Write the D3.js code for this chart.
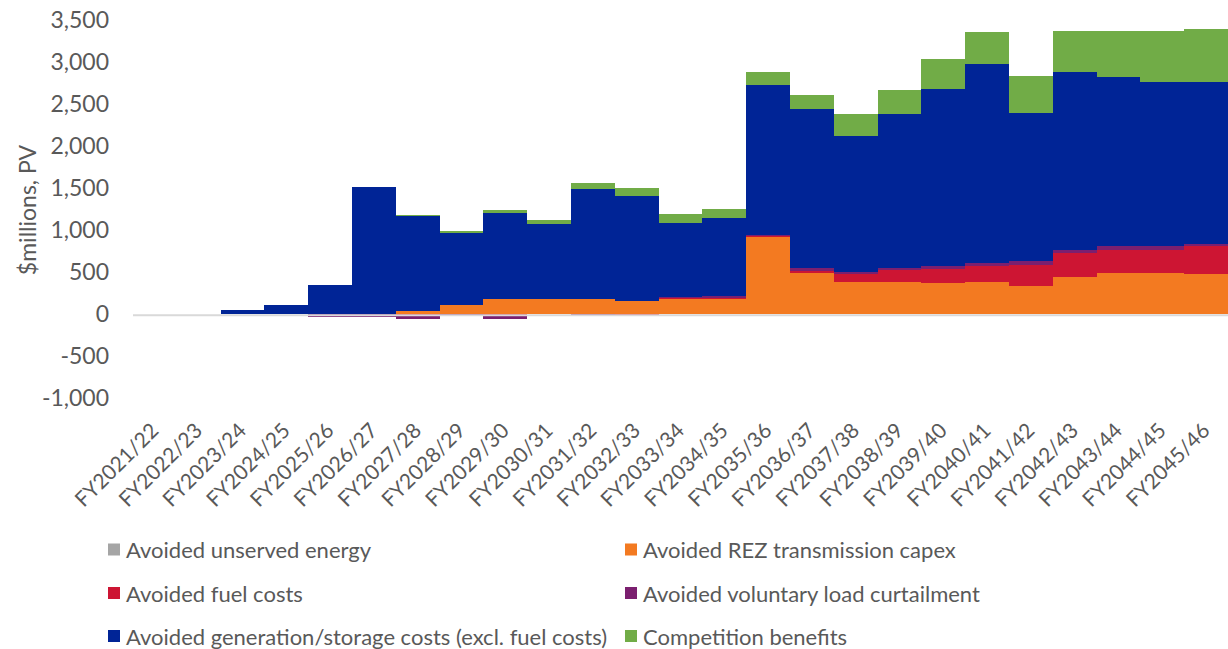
<!DOCTYPE html>
<html>
<head>
<meta charset="utf-8">
<script src="https://cdn.jsdelivr.net/npm/d3@7"></script>
<style>
  body { margin: 0; background: #fff; }
  text { font-family: Lato, 'Liberation Sans', sans-serif; fill: #595959; }
</style>
</head>
<body>
<svg width="1228" height="649"></svg>
<script>

const years = ['FY2021/22', 'FY2022/23', 'FY2023/24', 'FY2024/25', 'FY2025/26', 'FY2026/27',
               'FY2027/28', 'FY2028/29', 'FY2029/30', 'FY2030/31', 'FY2031/32', 'FY2032/33',
               'FY2033/34', 'FY2034/35', 'FY2035/36', 'FY2036/37', 'FY2037/38', 'FY2038/39',
               'FY2039/40', 'FY2040/41', 'FY2041/42', 'FY2042/43', 'FY2043/44', 'FY2044/45',
               'FY2045/46'];

// $millions, PV
const unservedEnergy = [0, 0, 0, 0, 0, 0, 0, 0, 0, 0, 0, 0, 0, 0, 0, 0, 0, 0, 0, 0, 0, 0, 0, 0, 0];
const rezCapex = [0, 0, 0, 0, 0, 0, 35, 115, 186, 186, 186, 160, 179, 179, 920, 496, 385, 385, 369, 385, 341, 448, 492, 492, 476];
const fuelCosts = [0, 0, 0, 0, 0, 0, -20, 0, -20, 0, 0, -25, 12, 20, 8, 20, 90, 139, 171, 186, 242, 286, 274, 280, 333];
const voluntaryCurtailment = [0, 0, 0, 0, -30, -30, -30, -25, -30, 0, -25, 0, 10, 16, 20, 40, 35, 32, 32, 44, 48, 32, 44, 37, 32];
const genStorage = [0, 0, 50, 115, 355, 1515, 1135, 853, 1024, 885, 1310, 1249, 890, 936, 1786, 1893, 1617, 1829, 2114, 2369, 1769, 2123, 2019, 1960, 1928];
const competition = [0, 0, 0, 0, 0, 0, 15, 28, 28, 48, 63, 90, 103, 103, 155, 166, 258, 290, 357, 376, 440, 487, 547, 607, 634];

const yTicks = [-1000, -500, 0, 500, 1000, 1500, 2000, 2500, 3000, 3500];

const keys = ['unserved', 'rez', 'fuel', 'voluntary', 'gen', 'competition'];
const labels = ['Avoided unserved energy', 'Avoided REZ transmission capex', 'Avoided fuel costs',
                'Avoided voluntary load curtailment', 'Avoided generation/storage costs (excl. fuel costs)',
                'Competition benefits'];
const colors = ['#a5a5a5', '#f37a21', '#cd1533', '#7b1f6f', '#002496', '#71ac47'];

let table = years.map(function(y, i) {
  return {
    year: y,
    unserved: unservedEnergy[i],
    rez: rezCapex[i],
    fuel: fuelCosts[i],
    voluntary: voluntaryCurtailment[i],
    gen: genStorage[i],
    competition: competition[i]
  };
});

let svg = d3.select('svg');

let xScale = d3.scaleBand()
               .domain(years)
               .range([133, 1228])
               .padding(0);

let yScale = d3.scaleLinear()
               .domain([-1000, 3500])
               .range([398.3, 20.5]);

let stacked = d3.stack()
                .keys(keys)
                .offset(d3.stackOffsetDiverging)(table);

stacked.forEach(function(layer, n) {
  svg.append('g')
     .attr('class', 'layer-' + keys[n])
     .selectAll('rect')
     .data(layer.filter(function(d) { return d[1] != d[0]; }))
     .enter()
     .append('rect')
     .attr('x', function(d) { return xScale(d.data.year); })
     .attr('width', xScale.bandwidth())
     .attr('y', function(d) { return yScale(Math.max(d[0], d[1])); })
     .attr('height', function(d) { return Math.abs(yScale(d[0]) - yScale(d[1])); })
     .attr('fill', colors[n])
     .attr('shape-rendering', 'crispEdges');
});

// zero line
svg.append('line')
   .attr('x1', 133)
   .attr('x2', 1228)
   .attr('y1', yScale(0) + 1)
   .attr('y2', yScale(0) + 1)
   .attr('stroke', '#d9d9d9')
   .attr('stroke-width', 2);

let yAxis = d3.axisLeft(yScale)
              .tickValues(yTicks)
              .tickSize(0)
              .tickPadding(24)
              .tickFormat(function(d) { return d3.format(',')(d).replace('\u2212', '-'); });

let yAxisG = svg.append('g')
                .attr('id', 'yAxisG')
                .attr('transform', 'translate(133,0)')
                .call(yAxis);

yAxisG.select('.domain').remove();
yAxisG.selectAll('text')
      .style('font-family', 'Lato, sans-serif')
      .style('font-size', '23px')
      .attr('fill', '#595959');

svg.append('text')
   .attr('transform', 'translate(27,210) rotate(-90)')
   .attr('text-anchor', 'middle')
   .attr('dominant-baseline', 'central')
   .style('font-size', '23px')
   .text('$millions, PV');

// category labels, slanted
svg.append('g')
   .attr('id', 'xLabels')
   .selectAll('text')
   .data(years)
   .enter()
   .append('text')
   .attr('transform', function(d) {
     let x = xScale(d) + xScale.bandwidth() / 2 + 5;
     return 'translate(' + x + ',432) rotate(-45)';
   })
   .attr('text-anchor', 'end')
   .style('font-size', '21px')
   .text(function(d) { return d; });

// legend: two columns, read across
let legendX = [108, 625];
let legendY = [549.5, 593, 636];

let legend = svg.append('g')
                .attr('id', 'legend')
                .selectAll('g')
                .data(labels)
                .enter()
                .append('g')
                .attr('transform', function(d, i) {
                  return 'translate(' + legendX[i % 2] + ',' + legendY[Math.floor(i / 2)] + ')';
                });

legend.append('rect')
      .attr('x', 0)
      .attr('y', -6)
      .attr('width', 12)
      .attr('height', 12)
      .attr('fill', function(d, i) { return colors[i]; });

legend.append('text')
      .attr('x', 18)
      .attr('y', 0)
      .attr('dominant-baseline', 'central')
      .style('font-size', '22px')
      .text(function(d) { return d; });

</script>
</body>
</html>
